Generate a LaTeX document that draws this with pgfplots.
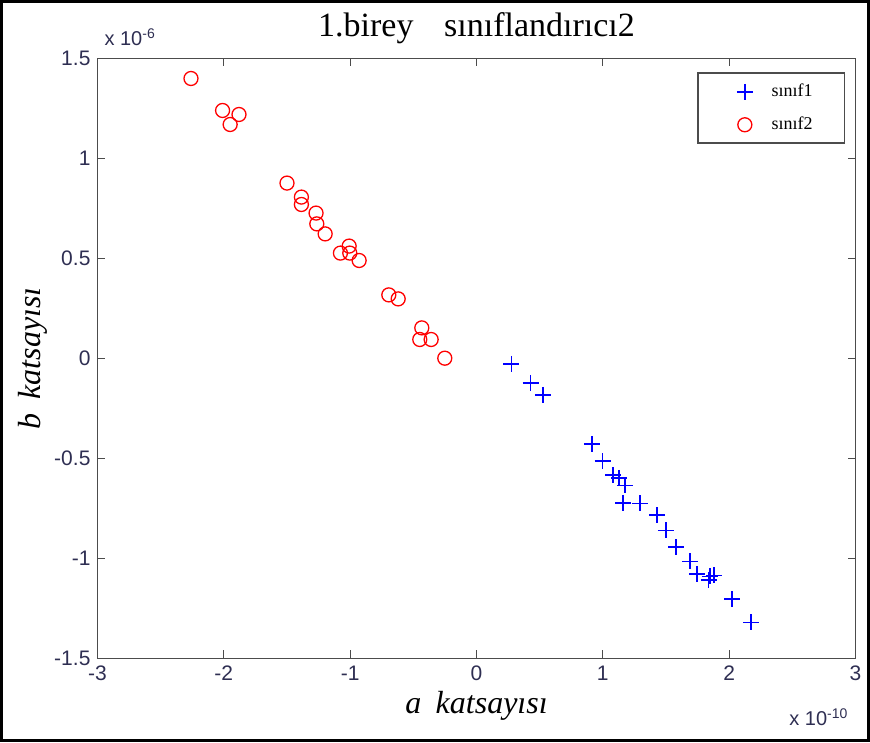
\documentclass[border=0pt]{standalone}
\usepackage{pgfplots}
\pgfplotsset{compat=1.18}
\usepackage{fontspec}
\setmainfont{Liberation Serif}
\setsansfont{Liberation Sans}
\definecolor{ticktext}{rgb}{0.18,0.18,0.32}

\begin{document}
\begin{tikzpicture}
\begin{axis}[
    scale only axis, width=379pt, height=300pt,
    xmin=-3, xmax=3, ymin=-1.5, ymax=1.5,
    xtick={-3,-2,-1,0,1,2,3},
    ytick={-1.5,-1,-0.5,0,0.5,1,1.5},
    tick align=inside, major tick length=4pt,
    axis line style={black!70, line width=0.6pt},
    tick style={black!70, line width=0.6pt},
    tick label style={font=\sffamily\fontsize{10.5}{11}\selectfont, text=ticktext},
    /pgf/number format/assume math mode=true,
    clip=false,
    title={1.birey\hspace{0.9em}sınıflandırıcı2},
    title style={font=\fontsize{17}{19}\selectfont, at={(0.5,1)}, anchor=base, yshift=5pt},
    xlabel={\textit{a\hspace{0.45em}katsayısı}},
    xlabel style={font=\fontsize{16}{18}\selectfont, at={(0.5,0)}, anchor=base, yshift=-27.5pt},
    ylabel={\textit{b\hspace{0.45em}katsayısı}},
    ylabel style={font=\fontsize{16}{18}\selectfont, at={(-0.0752,0.5)}, anchor=base},
    legend style={at={(0.9868,0.9767)}, anchor=north east, draw=black!70, line width=0.8pt,
        font=\fontsize{9}{10}\selectfont, cells={anchor=west},
        nodes={inner sep=0pt, minimum height=16.5pt},
        inner xsep=0pt, inner ysep=1pt},
    legend image code/.code={\path (0pt,0pt) (36pt,0pt); \draw[#1] plot coordinates {(23pt,0pt)};},
]
\addplot[only marks, mark=+, mark size=4pt, blue, line width=0.85pt] coordinates {
    (0.277,-0.027) (0.428,-0.122) (0.525,-0.182)
    (0.913,-0.427) (0.998,-0.513) (1.082,-0.583) (1.130,-0.597) (1.174,-0.635)
    (1.160,-0.722) (1.293,-0.725) (1.431,-0.783) (1.499,-0.860) (1.581,-0.943)
    (1.689,-1.015) (1.747,-1.077) (1.847,-1.090) (1.879,-1.085) (1.837,-1.107)
    (2.024,-1.203) (2.175,-1.320)
};
\addlegendentry{sınıf1\rule{16pt}{0pt}}
\addplot[only marks, mark=o, mark size=3.5pt, red, line width=0.65pt] coordinates {
    (-2.26,1.40) (-2.01,1.24) (-1.88,1.22) (-1.95,1.17)
    (-1.50,0.877) (-1.386,0.807) (-1.386,0.770) (-1.270,0.727) (-1.264,0.673)
    (-1.198,0.623) (-1.008,0.562) (-1.077,0.527) (-1.003,0.527) (-0.929,0.490)
    (-0.694,0.318) (-0.620,0.298) (-0.433,0.153) (-0.449,0.095) (-0.359,0.095)
    (-0.251,0.0015)
};
\addlegendentry{sınıf2\rule{16pt}{0pt}}
\node[anchor=base west, font=\sffamily\fontsize{10}{11}\selectfont, text=ticktext, yshift=6.5pt]
    at (rel axis cs:0,1) {x 10\textsuperscript{-6}};
\node[anchor=base east, font=\sffamily\fontsize{10}{11}\selectfont, text=ticktext, yshift=-33.5pt]
    at (rel axis cs:1,0) {x 10\textsuperscript{-10}};
\end{axis}
\draw[line width=1.5pt] (-48pt,-41pt) rectangle (385.5pt,328.5pt);
\end{tikzpicture}
\end{document}
